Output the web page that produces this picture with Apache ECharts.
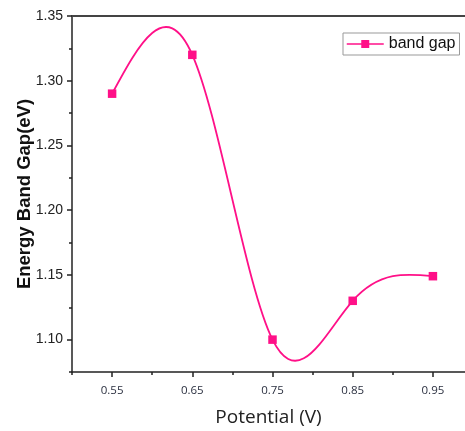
<!DOCTYPE html>
<html lang="en">
<head>
    <meta charset="UTF-8">
    <title>Energy Band Gap</title>
    <script src="https://cdn.jsdelivr.net/npm/echarts@6/dist/echarts.min.js"></script>
    <style>
        html, body { margin: 0; padding: 0; background: #fff; }
        #chart { width: 465px; height: 431px; }
    </style>
</head>
<body>
<div id="chart"></div>
<script type="text/javascript">
    // data
    var potential = [0.55, 0.65, 0.75, 0.85, 0.95];
    var bandGap = [1.29, 1.32, 1.10, 1.13, 1.149];
    var xLabels = [0.55, 0.65, 0.75, 0.85, 0.95];
    var xMinor = [0.50, 0.60, 0.70, 0.80, 0.90];
    var yLabels = [1.10, 1.15, 1.20, 1.25, 1.30, 1.35];
    var yMinor = [1.075, 1.125, 1.175, 1.225, 1.275, 1.325];

    var pink = '#ff1088';

    // natural cubic spline through pixel points, drawn as bezier segments
    function splinePath(pts) {
        var n = pts.length, i;
        var h = [], d = [];
        for (i = 0; i < n - 1; i++) {
            h[i] = pts[i + 1][0] - pts[i][0];
            d[i] = (pts[i + 1][1] - pts[i][1]) / h[i];
        }
        var M = [];
        for (i = 0; i < n; i++) M[i] = 0;
        // thomas algorithm for the inner second derivatives
        var a = [], b = [], c = [], r = [];
        for (i = 1; i < n - 1; i++) {
            a[i] = h[i - 1];
            b[i] = 2 * (h[i - 1] + h[i]);
            c[i] = h[i];
            r[i] = 6 * (d[i] - d[i - 1]);
        }
        for (i = 2; i < n - 1; i++) {
            var m = a[i] / b[i - 1];
            b[i] -= m * c[i - 1];
            r[i] -= m * r[i - 1];
        }
        for (i = n - 2; i >= 1; i--) {
            M[i] = (r[i] - (i < n - 2 ? c[i] * M[i + 1] : 0)) / b[i];
        }
        var p = 'M' + pts[0][0] + ' ' + pts[0][1];
        for (i = 0; i < n - 1; i++) {
            var sL = d[i] - h[i] * (2 * M[i] + M[i + 1]) / 6;
            var sR = d[i] + h[i] * (M[i] + 2 * M[i + 1]) / 6;
            var x0 = pts[i][0], y0 = pts[i][1], x1 = pts[i + 1][0], y1 = pts[i + 1][1];
            p += ' C' + (x0 + h[i] / 3) + ' ' + (y0 + sL * h[i] / 3) + ' '
                + (x1 - h[i] / 3) + ' ' + (y1 - sR * h[i] / 3) + ' ' + x1 + ' ' + y1;
        }
        return p;
    }

    var points = potential.map(function (x, i) {
        return [x, bandGap[i]];
    });

    var chart = echarts.init(document.getElementById('chart'));

    var option = {
        backgroundColor: '#fff',
        animation: false,
        grid: {left: 72, top: 16, right: 0, bottom: 59, outerBoundsMode: 'none'},
        legend: {
            data: ['band gap'],
            left: 343,
            top: 33,
            orient: 'vertical',
            padding: [3, 4, 3, 3],
            itemWidth: 37,
            itemHeight: 10,
            borderColor: '#999',
            borderWidth: 1,
            lineStyle: {color: pink, width: 1.5, opacity: 1},
            textStyle: {fontFamily: 'Liberation Sans', fontSize: 16, color: '#111'}
        },
        xAxis: [
            {
                type: 'value',
                position: 'bottom',
                min: 0.5,
                max: 0.99,
                splitLine: {show: false},
                axisLine: {lineStyle: {color: '#222', width: 1.5}},
                axisTick: {customValues: xLabels, length: 5, lineStyle: {color: '#222', width: 1.5}},
                axisLabel: {
                    customValues: xLabels,
                    margin: 13,
                    fontFamily: 'Open Sans',
                    fontSize: 11.5,
                    color: '#2b3040',
                    formatter: function (v) { return v.toFixed(2); }
                },
                name: 'Potential (V)',
                nameLocation: 'middle',
                nameGap: 36,
                nameTextStyle: {fontFamily: 'Open Sans', fontSize: 19, color: '#222'}
            },
            {
                type: 'value',
                position: 'bottom',
                min: 0.5,
                max: 0.99,
                splitLine: {show: false},
                axisLine: {show: false},
                axisLabel: {show: false},
                axisTick: {customValues: xMinor, length: 3, lineStyle: {color: '#222', width: 1.5}}
            },
            {
                type: 'value',
                position: 'top',
                min: 0.5,
                max: 0.99,
                splitLine: {show: false},
                axisLine: {lineStyle: {color: '#444', width: 2}},
                axisTick: {show: false},
                axisLabel: {show: false}
            }
        ],
        yAxis: [
            {
                type: 'value',
                position: 'left',
                min: 1.075,
                max: 1.35,
                splitLine: {show: false},
                axisLine: {show: true, lineStyle: {color: '#222', width: 1.5}},
                axisTick: {show: true, customValues: yLabels, length: 5, lineStyle: {color: '#222', width: 1.5}},
                axisLabel: {
                    customValues: yLabels,
                    margin: 9,
                    fontFamily: 'Liberation Sans',
                    fontSize: 14,
                    color: '#222',
                    formatter: function (v) { return v.toFixed(2); }
                },
                name: 'Energy Band Gap(eV)',
                nameLocation: 'middle',
                nameGap: 38,
                nameMoveOverlap: false,
                nameTextStyle: {fontFamily: 'Liberation Sans', fontSize: 18.5, fontWeight: 'bold', color: '#111'}
            },
            {
                type: 'value',
                position: 'left',
                min: 1.075,
                max: 1.35,
                splitLine: {show: false},
                axisLine: {show: false},
                axisLabel: {show: false},
                axisTick: {show: true, customValues: yMinor, length: 3, lineStyle: {color: '#222', width: 1.5}}
            }
        ],
        series: [
            {
                name: 'spline',
                type: 'custom',
                xAxisIndex: 0,
                yAxisIndex: 0,
                data: points,
                encode: {x: 0, y: 1},
                silent: true,
                renderItem: function (params, api) {
                    if (params.dataIndexInside !== 0) return null;
                    var pts = points.map(function (p) {
                        return api.coord(p);
                    });
                    return {
                        type: 'path',
                        shape: {pathData: splinePath(pts)},
                        style: {stroke: pink, lineWidth: 1.8, fill: null}
                    };
                }
            },
            {
                name: 'band gap',
                type: 'line',
                xAxisIndex: 0,
                yAxisIndex: 0,
                data: points,
                symbol: 'rect',
                symbolSize: 8.5,
                z: 5,
                itemStyle: {color: pink},
                lineStyle: {color: pink, opacity: 0}
            }
        ]
    };

    chart.setOption(option);
</script>
</body>
</html>
